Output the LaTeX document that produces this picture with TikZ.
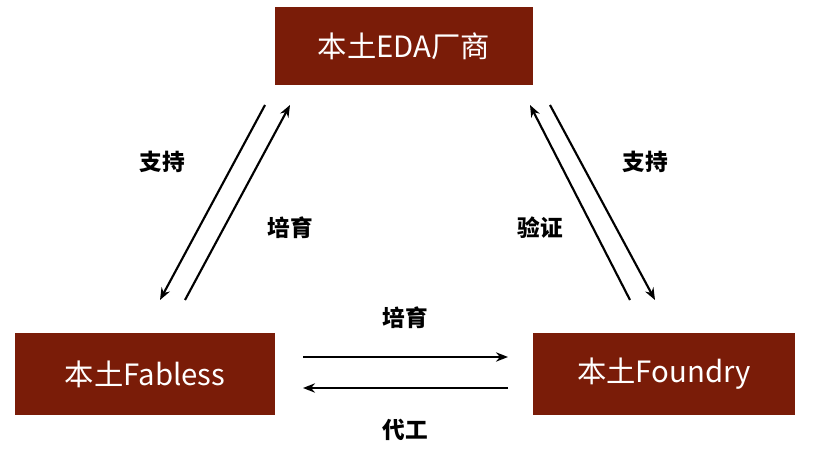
\documentclass[tikz,border=0pt]{standalone}
\usepackage{fontspec}
\setmainfont{Noto Sans CJK SC}
\usetikzlibrary{arrows.meta}
\definecolor{boxred}{HTML}{7A1C08}
\begin{document}
\begin{tikzpicture}[x=0.75pt,y=-0.75pt,
  box/.style={fill=boxred,text=white,inner sep=0pt,font=\fontsize{22}{26}\selectfont},
  lab/.style={font=\fontsize{17}{20}\selectfont\bfseries},
  arr/.style={line width=1.6pt,-{Stealth[length=9pt,width=7pt]}}]
\useasboundingbox (0,0) rectangle (819,474);
\node[box,minimum width=258*0.75pt,minimum height=78*0.75pt] (eda) at (404,46) {本土EDA厂商};
\node[box,minimum width=260*0.75pt,minimum height=82*0.75pt] (fab) at (145,374) {本土Fabless};
\node[box,minimum width=262*0.75pt,minimum height=82*0.75pt] (fdy) at (664,374) {本土Foundry};
\coordinate (a1) at (265,105); \coordinate (a2) at (160,300);
\coordinate (b1) at (185,300); \coordinate (b2) at (290,105);
\coordinate (c1) at (630,300); \coordinate (c2) at (530,105);
\coordinate (d1) at (550,105); \coordinate (d2) at (655,300);
\coordinate (e1) at (303,357); \coordinate (e2) at (508,357);
\coordinate (f1) at (508,388); \coordinate (f2) at (303,388);
\draw[arr] (a1) -- (a2);
\draw[arr] (b1) -- (b2);
\draw[arr] (c1) -- (c2);
\draw[arr] (d1) -- (d2);
\draw[arr] (e1) -- (e2);
\draw[arr] (f1) -- (f2);
\node[lab] (l1) at (162,162) {支持};
\node[lab] (l2) at (290,228) {培育};
\node[lab] (l3) at (540,228) {验证};
\node[lab] (l4) at (645,162) {支持};
\node[lab] (l5) at (405,318) {培育};
\node[lab] (l6) at (405,430) {代工};
\end{tikzpicture}
\end{document}
